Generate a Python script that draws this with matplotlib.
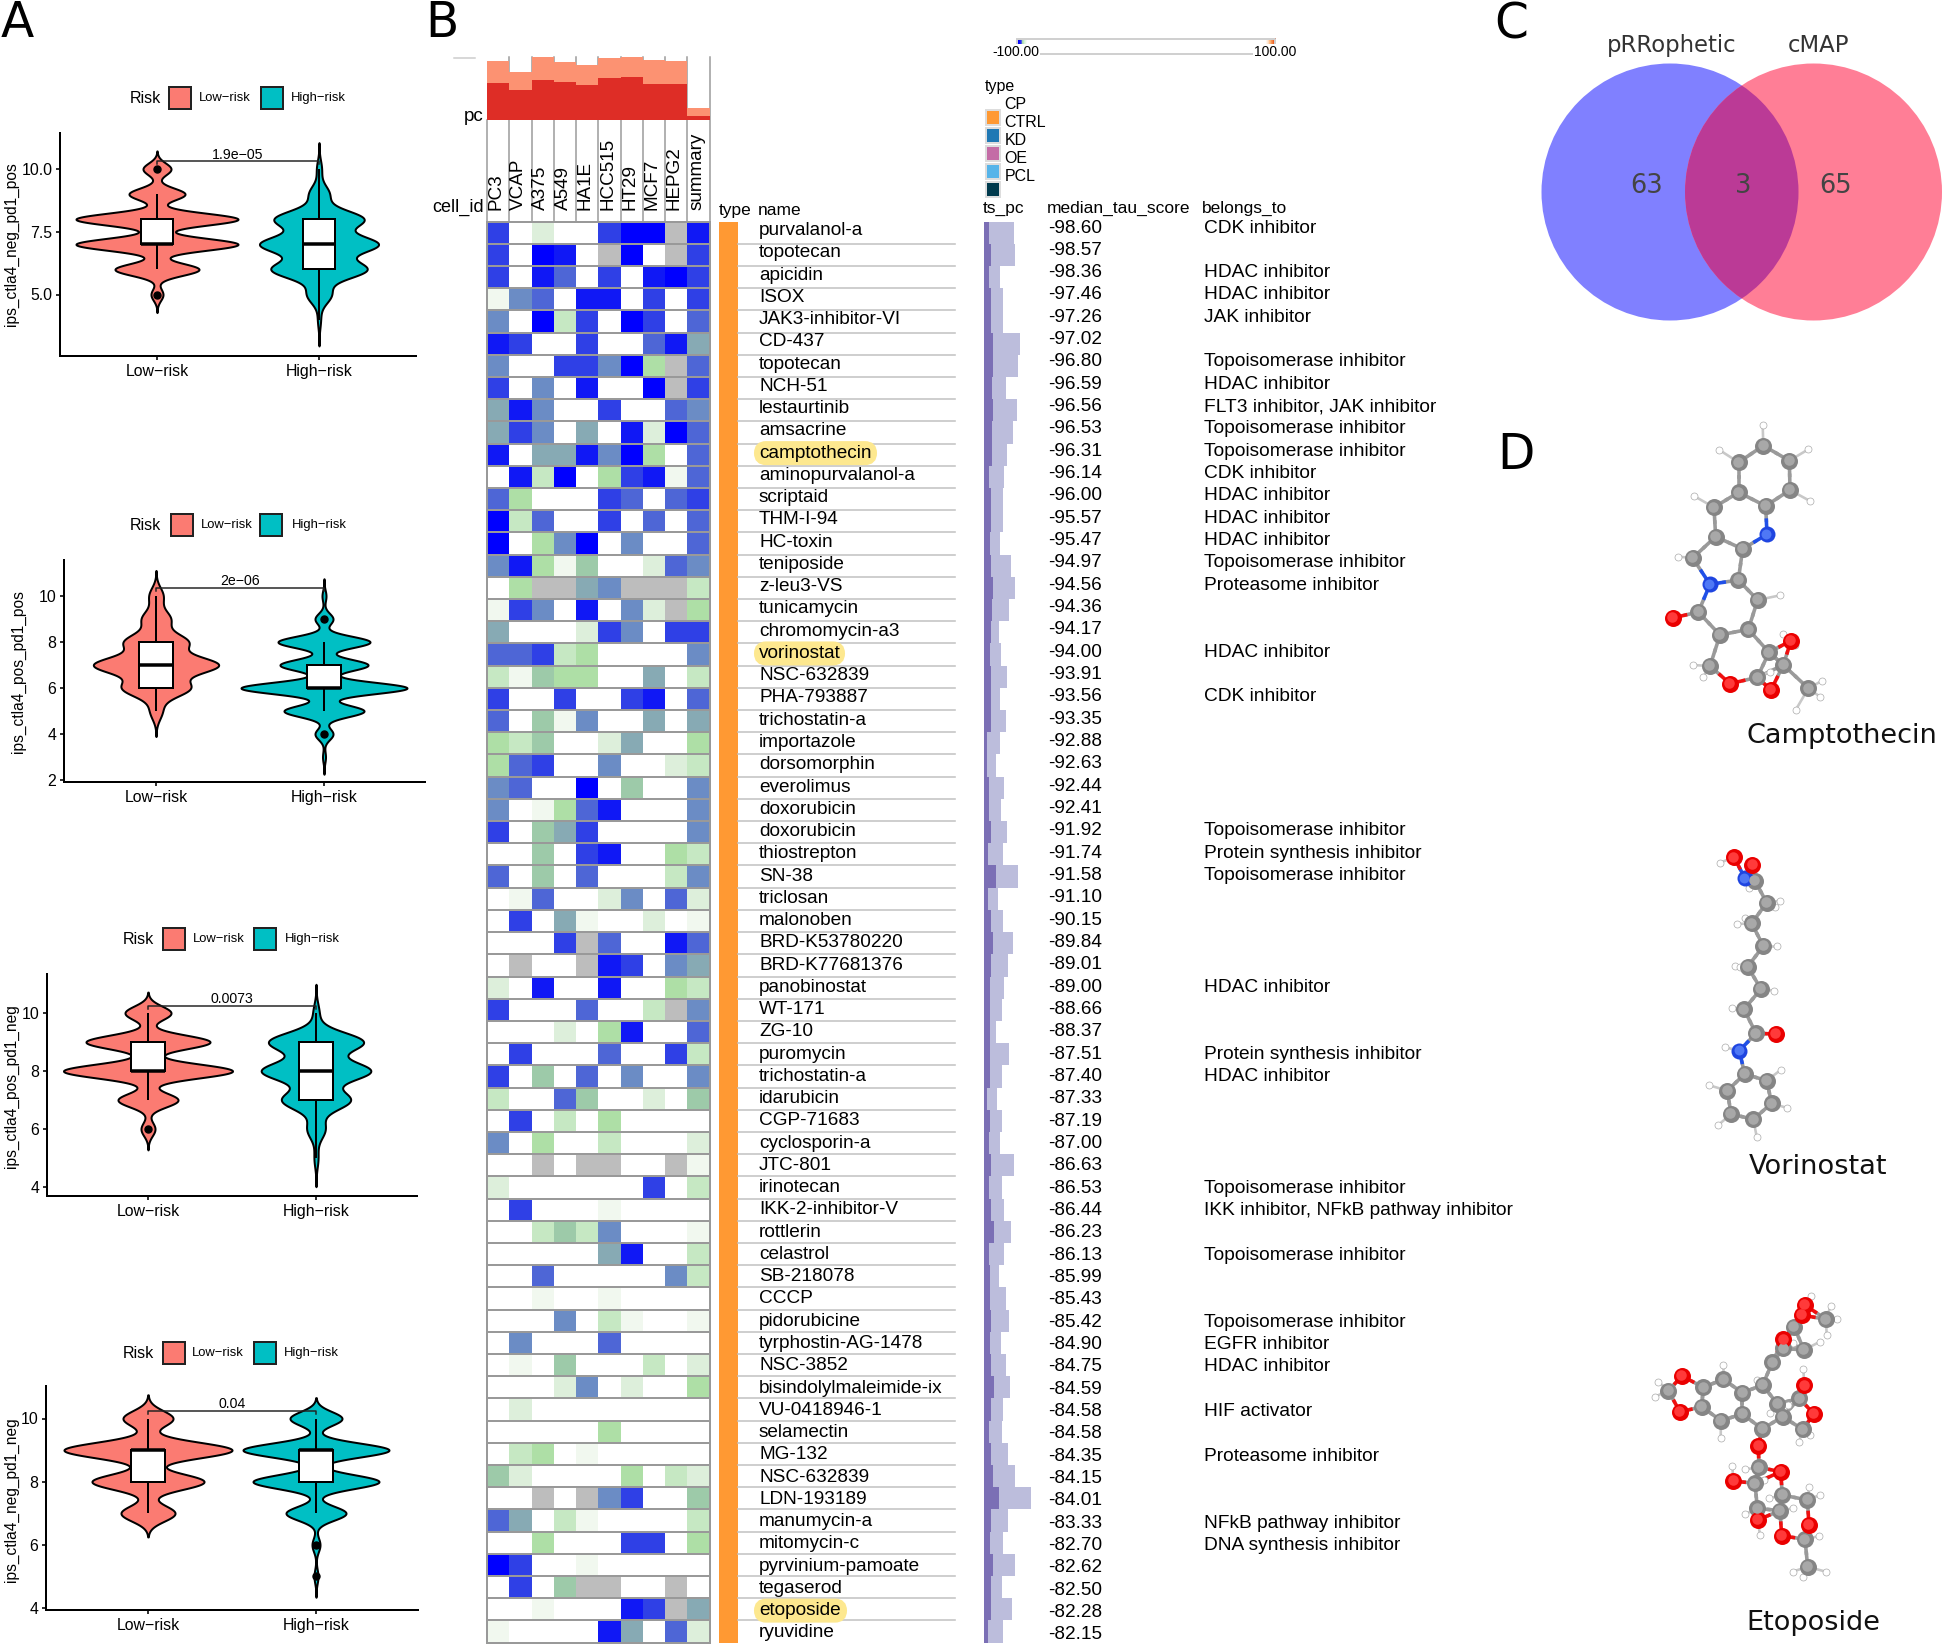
import numpy as np
import matplotlib
matplotlib.use('Agg')
import matplotlib.pyplot as plt
from matplotlib.colors import ListedColormap, LinearSegmentedColormap
from matplotlib.patches import Rectangle, Circle, FancyBboxPatch

plt.rcParams['font.family'] = ['Liberation Sans', 'DejaVu Sans']
W, H = 1944, 1648

# ---------- Panel A data: observations per integer score, smoothing bandwidth, box stats
panel_ylabels = ['ips_ctla4_neg_pd1_pos', 'ips_ctla4_pos_pd1_pos', 'ips_ctla4_pos_pd1_neg', 'ips_ctla4_neg_pd1_neg']
panel_pvalues = ['1.9e\u221205', '2e\u221206', '0.0073', '0.04']
panel_bracket = [10.3, 10.35, 10.25, 10.25]
panel_yticks = [[5, 7.5, 10], [2, 4, 6, 8, 10], [4, 6, 8, 10], [4, 6, 8, 10]]
panel_yticklabels = [['5.0', '7.5', '10.0'], ['2', '4', '6', '8', '10'], ['4', '6', '8', '10'], ['4', '6', '8', '10']]
low_scores = [{5: 6, 6: 42, 7: 81, 8: 81, 9: 28, 10: 14},
              {5: 6, 6: 33, 7: 61, 8: 31, 9: 14, 10: 7},
              {6: 7, 7: 30, 8: 84.5, 9: 62, 10: 23},
              {7: 27, 8: 56, 9: 84, 10: 25}]
high_scores = [{4: 1.5, 5: 12, 6: 47, 7: 58, 8: 44, 9: 10, 10: 2.5},
               {3: 1.5, 4: 9, 5: 40, 6: 83, 7: 44, 8: 46, 9: 9, 10: 2},
               {5: 2, 6: 9, 7: 34, 8: 54, 9: 47, 10: 3},
               {5: 2, 6: 4, 7: 30, 8: 63, 9: 73, 10: 26}]
low_bw = [0.24, 0.37, 0.24, 0.25]
high_bw = [0.35, 0.25, 0.33, 0.22]
# q1, median, q3, whisker low, whisker high, outliers
low_box = [(7, 7, 8, 6, 9, [5, 10]), (6, 7, 8, 5, 10, []), (8, 8, 9, 7, 10, [6]), (8, 9, 9, 7, 10, [])]
high_box = [(6, 7, 8, 4, 10, []), (6, 6, 7, 5, 8, [4, 9]), (7, 8, 9, 5, 10, []), (8, 9, 9, 7, 10, [5, 6])]
risk_labels = ['Low\u2212risk', 'High\u2212risk']

# ---------- Panel B data
cell_ids = ['PC3', 'VCAP', 'A375', 'A549', 'HA1E', 'HCC515', 'HT29', 'MCF7', 'HEPG2', 'summary']
pc_light = [93.5, 76.8, 100, 91.4, 88, 98.4, 100, 95.7, 93, 18.4]
pc_dark = [59, 47.6, 62.7, 60.5, 56.2, 66.5, 68.6, 57.8, 57.8, 7]
drug_names = ['purvalanol-a', 'topotecan', 'apicidin', 'ISOX', 'JAK3-inhibitor-VI', 'CD-437', 'topotecan', 'NCH-51',
              'lestaurtinib', 'amsacrine', 'camptothecin', 'aminopurvalanol-a', 'scriptaid', 'THM-I-94', 'HC-toxin',
              'teniposide', 'z-leu3-VS', 'tunicamycin', 'chromomycin-a3', 'vorinostat', 'NSC-632839', 'PHA-793887',
              'trichostatin-a', 'importazole', 'dorsomorphin', 'everolimus', 'doxorubicin', 'doxorubicin',
              'thiostrepton', 'SN-38', 'triclosan', 'malonoben', 'BRD-K53780220', 'BRD-K77681376', 'panobinostat',
              'WT-171', 'ZG-10', 'puromycin', 'trichostatin-a', 'idarubicin', 'CGP-71683', 'cyclosporin-a', 'JTC-801',
              'irinotecan', 'IKK-2-inhibitor-V', 'rottlerin', 'celastrol', 'SB-218078', 'CCCP', 'pidorubicine',
              'tyrphostin-AG-1478', 'NSC-3852', 'bisindolylmaleimide-ix', 'VU-0418946-1', 'selamectin', 'MG-132',
              'NSC-632839', 'LDN-193189', 'manumycin-a', 'mitomycin-c', 'pyrvinium-pamoate', 'tegaserod', 'etoposide',
              'ryuvidine']
tau_scores = ['-98.60', '-98.57', '-98.36', '-97.46', '-97.26', '-97.02', '-96.80', '-96.59', '-96.56', '-96.53',
              '-96.31', '-96.14', '-96.00', '-95.57', '-95.47', '-94.97', '-94.56', '-94.36', '-94.17', '-94.00',
              '-93.91', '-93.56', '-93.35', '-92.88', '-92.63', '-92.44', '-92.41', '-91.92', '-91.74', '-91.58',
              '-91.10', '-90.15', '-89.84', '-89.01', '-89.00', '-88.66', '-88.37', '-87.51', '-87.40', '-87.33',
              '-87.19', '-87.00', '-86.63', '-86.53', '-86.44', '-86.23', '-86.13', '-85.99', '-85.43', '-85.42',
              '-84.90', '-84.75', '-84.59', '-84.58', '-84.58', '-84.35', '-84.15', '-84.01', '-83.33', '-82.70',
              '-82.62', '-82.50', '-82.28', '-82.15']
CDK, HD, TP, JK = 'CDK inhibitor', 'HDAC inhibitor', 'Topoisomerase inhibitor', 'JAK inhibitor'
PS, PR = 'Protein synthesis inhibitor', 'Proteasome inhibitor'
belongs_to = [CDK, '', HD, HD, JK, '', TP, HD, 'FLT3 inhibitor, JAK inhibitor', TP, TP, CDK, HD, HD, HD, TP, PR, '', '',
              HD, '', CDK, '', '', '', '', '', TP, PS, TP, '', '', '', '', HD, '', '', PS, HD, '', '', '', '', TP,
              'IKK inhibitor, NFkB pathway inhibitor', '', TP, '', '', TP, 'EGFR inhibitor', HD, '',
              'HIF activator', '', PR, '', '', 'NFkB pathway inhibitor', 'DNA synthesis inhibitor', '', '', '', '']
highlighted = {'camptothecin': 115, 'vorinostat': 83, 'etoposide': 85}
G = np.nan
# connectivity level per drug and cell line: 0 blank, 1-11 pale green to pure blue, G not available
connectivity = [
    [9, 0, 2, 0, 0, 9, 11, 11, G, 10], [9, 0, 11, 10, 0, G, 11, 0, G, 9], [9, 0, 10, 8, 0, 9, 0, 10, 11, 9],
    [1, 7, 8, 0, 10, 10, 0, 9, 0, 9], [7, 0, 11, 3, 9, 0, 11, 9, 0, 8], [10, 9, 0, 0, 9, 0, 0, 8, 10, 6],
    [7, 0, 0, 9, 9, 7, 11, 4, G, 8], [9, 0, 7, 0, 10, 0, 0, 11, G, 9], [6, 10, 7, 0, 0, 9, 0, 0, 8, 7],
    [6, 9, 7, 0, 6, 0, 10, 2, 11, 8], [10, 0, 6, 6, 10, 7, 11, 4, 0, 8], [0, 10, 3, 11, 0, 4, 9, 10, 1, 8],
    [8, 4, 0, 0, 0, 9, 8, 0, 8, 9], [11, 3, 8, 0, 0, 9, 0, 8, 0, 8], [11, 0, 4, 7, 11, 0, 7, 0, 0, 8],
    [7, 10, 4, 1, 5, 0, 0, 2, 8, 7], [0, 4, G, G, 6, 7, G, G, G, 3], [1, 9, 7, 0, 10, 0, 7, 2, G, 4],
    [6, 0, 0, 0, 2, 9, 7, 0, 9, 9], [8, 8, 9, 3, 4, 0, 0, 0, 0, 7], [3, 1, 5, 4, 4, 0, 0, 6, 0, 3],
    [9, 0, 0, 9, 0, 0, 9, 10, 0, 8], [8, 0, 5, 1, 7, 0, 0, 6, 0, 6], [4, 3, 5, 0, 0, 2, 6, 0, 0, 4],
    [4, 8, 9, 0, 0, 7, 0, 0, 2, 3], [7, 8, 0, 0, 11, 0, 5, 0, 0, 7], [7, 0, 1, 4, 8, 10, 0, 0, 0, 7],
    [9, 0, 5, 6, 9, 0, 0, 0, 0, 7], [0, 0, 5, 0, 9, 10, 0, 0, 4, 3], [8, 0, 5, 0, 8, 0, 0, 0, 3, 7],
    [0, 1, 8, 0, 0, 2, 7, 0, 8, 2], [0, 9, 0, 6, 1, 0, 0, 2, 0, 1], [0, 0, 0, 9, G, 8, 0, 0, 10, 8],
    [0, G, 0, 0, G, 10, 9, 0, 7, 6], [2, 0, 10, 0, 0, 10, 0, 0, 4, 3], [9, 0, 0, 0, 8, 0, 0, 3, G, 7],
    [0, 0, 0, 2, 0, 4, 10, 0, 0, 8], [0, 9, 0, 0, 0, 8, 0, 0, 9, 3], [9, 0, 5, 0, 8, 0, 7, 0, 0, 7],
    [3, 0, 0, 8, 5, 0, 0, 2, 0, 5], [0, 9, 0, 3, 0, 4, 0, 0, 0, 0], [7, 0, 4, 0, 0, 3, 0, 0, 0, 2],
    [0, 0, G, 0, G, G, 0, 0, G, 1], [2, 0, 0, 0, 0, 0, 0, 9, 0, 3], [0, 9, 0, 0, 0, 1, 0, 0, 0, 0],
    [0, 0, 3, 5, 3, 7, 0, 0, 0, 1], [0, 0, 0, 0, 0, 6, 10, 0, 0, 3], [0, 0, 8, 0, 0, 0, 0, 0, 7, 3],
    [0, 0, 1, 0, 0, 1, 0, 0, 0, 0], [0, 0, 0, 7, 0, 3, 1, 0, 0, 1], [0, 7, 0, 0, 0, 8, 0, 0, 0, 0],
    [0, 1, 0, 5, 0, 0, 0, 3, 0, 2], [0, 0, 0, 2, 7, 0, 2, 0, 0, 4], [0, 2, 0, 0, 0, 0, 0, 0, 0, 0],
    [0, 0, 0, 0, 0, 4, 0, 0, 0, 0], [0, 3, 4, 0, 1, 0, 0, 0, 0, 0], [5, 2, 0, 0, 0, 0, 4, 0, 3, 2],
    [0, 0, G, 0, G, 7, 9, 0, 0, 5], [8, 6, 0, 3, 1, 0, 0, 0, 0, 3], [0, 0, 4, 0, 0, 0, 9, 9, 0, 4],
    [11, 9, 0, 0, 1, 0, 0, 0, 0, 0], [0, 9, 0, 5, G, G, 0, 0, G, 0], [0, 0, 1, 0, 0, 0, 10, 9, G, 6],
    [1, 0, 0, 0, 0, 10, 6, 0, 8, 2]]
ts_dark = [10, 14, 10.7, 13.3, 13.3, 18.7, 18.7, 15.3, 18.7, 15.3, 15.3, 10.7, 13.3, 13.3, 12, 14.7, 17.3, 16, 14.7, 12,
           13.3, 14.7, 13.3, 6.7, 6.7, 10.7, 10.7, 14.7, 8, 23.3, 8, 13.3, 18.7, 14.7, 12, 12, 12, 12, 12, 6.7, 12,
           10.7, 13.3, 10.7, 13.3, 20, 10.7, 12, 12, 14.7, 12, 14.7, 20, 13.3, 10.7, 14.7, 18.7, 30.7, 13.3, 12, 17.3,
           13.3, 14.7, 8]
ts_light = [60, 62, 32.7, 38, 38.7, 71.3, 68.7, 43.3, 65.3, 58.7, 46.7, 40, 37.3, 37.3, 32, 54.7, 62.7, 50, 29.3, 34.7,
            46.7, 32, 43.3, 32, 24, 40, 33.3, 45.3, 38.7, 68, 28.7, 38.7, 58.7, 48.7, 39.3, 36, 24.7, 50, 36, 26, 36,
            32, 60, 35.3, 40.7, 53.3, 40.7, 29.3, 44.7, 50, 33.3, 44.7, 52, 37.3, 36, 48, 62, 93.3, 47.3, 37.3, 61.3,
            35.3, 55.3, 38.7]
type_labels = ['CP', 'CTRL', 'KD', 'OE', 'PCL']
type_colors = ['#ff9933', '#1f78b4', '#c46ca6', '#56b4e9', '#003a4d']
level_colors = ['#ffffff', '#f1f8ef', '#ddefdb', '#c6e8c3', '#aedfa6', '#9dcaa9', '#87aab4', '#6b8cc5', '#4e66d6',
                '#2f40e6', '#1018f5', '#0000ff']

# ---------- Panel C data
venn_labels = ['pRRophetic', 'cMAP']
venn_counts = [63, 3, 65]

# ---------- Panel D data: atoms
camptothecin_C = [(430,137),(508,182),(510,270),(437,318),(356,277),(356,187),(282,322),(287,410),(368,447),(218,474),
                  (355,540),(413,600),(385,688),(300,705),(235,636),(447,757),(490,795),(565,865),(412,832),(270,798)]
camptothecin_N = [(441,403),(270,553)]
camptothecin_O = [(158,654),(513,722),(453,870),(330,851)]
camptothecin_H = [(428,75),(565,148),(570,303),(298,150),(222,288),(175,470),(480,586),(218,795),(250,830),(488,702),
                  (525,735),(605,843),(600,890),(527,930),(450,815)]
vorinostat_C = [(405,122),(440,188),(395,250),(430,318),(383,380),(423,447),(372,508),(408,580),(374,702),(322,752),
                (333,822),(400,838),(455,790),(440,722)]
vorinostat_N = [(375,115),(358,632)]
vorinostat_O = [(342,52),(397,75),(467,582)]
vorinostat_H = [(300,68),(388,143),(480,182),(465,200),(352,252),(375,235),(470,318),(345,378),(462,452),(335,505),
                (315,622),(268,736),(295,855),(410,890),(502,804),(482,690),(360,380)]
etoposide_C = [(310,298),(250,322),(245,380),(303,422),(367,402),(367,338),(428,315),(427,447),(472,372),(488,410),
               (538,355),(548,448),(457,247),(490,205),(522,140),(552,210),(618,118),(145,332),(417,562),(405,610),
               (412,685),(480,692),(487,645),(562,660),(555,778),(563,860)]
etoposide_N = []
etoposide_O = [(186,288),(180,396),(553,316),(582,402),(555,75),(490,178),(415,498),(482,575),(340,603),(413,720),
               (485,767),(567,735),(545,105)]
etoposide_H = [(310,255),(115,305),(105,350),(302,473),(410,300),(450,400),(505,375),(570,465),(537,487),(572,47),
               (632,78),(652,117),(620,165),(600,185),(550,268),(520,190),(375,568),(432,600),(337,558),(375,703),
               (420,765),(448,655),(518,685),(568,622),(600,645),(598,768),(518,875),(550,892),(617,875)]

# ---------- Figure helpers
fig = plt.figure(figsize=(W / 100, H / 100), dpi=100, facecolor='white')


def px_axes(l, t, r, b, z=1):
    ax = fig.add_axes([l / W, 1 - b / H, (r - l) / W, (b - t) / H], zorder=z)
    ax.patch.set_alpha(0)
    return ax


def px_lw(p):
    return p * 0.72


bg = px_axes(0, 0, W, H, z=0)
bg.set_xlim(0, W); bg.set_ylim(H, 0); bg.axis('off')
ov = px_axes(0, 0, W, H, z=5)
ov.set_xlim(0, W); ov.set_ylim(H, 0); ov.axis('off')

for s, x, y in [('A', 1, 37), ('B', 425, 37), ('C', 1494, 38), ('D', 1497, 469)]:
    ov.text(x, y, s, fontsize=35, family='DejaVu Sans', va='baseline', ha='left', color='black')

# ---------- Panel A
panel_geom = [dict(l=60, t=133, r=416, b=356, xl=157, xh=319, y1=(5, 294.5), y2=(10, 169)),
              dict(l=64, t=560, r=425, b=782, xl=156, xh=324, y1=(2, 780), y2=(10, 596)),
              dict(l=47, t=974, r=417, b=1196, xl=148, xh=316, y1=(4, 1187), y2=(10, 1013)),
              dict(l=46, t=1386, r=418, b=1610, xl=148, xh=316, y1=(4, 1608), y2=(10, 1418.5))]
legend_geom = [dict(rt=130, y=98, s1=169, t1=199, s2=261, t2=291),
               dict(rt=130, y=525, s1=171, t1=201, s2=260, t2=292),
               dict(rt=123, y=939, s1=163, t1=193, s2=254, t2=285),
               dict(rt=123, y=1353, s1=163, t1=192, s2=254, t2=284)]
label_geom = [(11, 244), (18, 672), (11, 1086), (11, 1500)]
FILLS = ['#fb7b72', '#00bfc4']


def violin(ax, xc, scores, bw, box, color, unit):
    ks = np.array(list(scores.keys()), float)
    cs = np.array(list(scores.values()), float)
    ys = np.linspace(ks.min() - 3 * bw, ks.max() + 3 * bw, 500)
    half = (cs[None, :] * np.exp(-0.5 * ((ys[:, None] - ks[None, :]) / bw) ** 2)).sum(axis=1) / unit
    ax.fill_betweenx(ys, xc - half, xc + half, facecolor=color, edgecolor='black', lw=px_lw(2), zorder=2)
    q1, med, q3, wl, wh, out = box
    ax.plot([xc, xc], [wl, q1], color='black', lw=px_lw(2), zorder=3, solid_capstyle='butt')
    ax.plot([xc, xc], [q3, wh], color='black', lw=px_lw(2), zorder=3, solid_capstyle='butt')
    ax.add_patch(Rectangle((xc - 0.1, q1), 0.2, q3 - q1, facecolor='white', edgecolor='black', lw=px_lw(2), zorder=4))
    ax.plot([xc - 0.1, xc + 0.1], [med, med], color='black', lw=px_lw(3.5), zorder=5, solid_capstyle='butt')
    if out:
        ax.scatter([xc] * len(out), out, s=px_lw(7) ** 2, color='black', zorder=5)


for i, g in enumerate(panel_geom):
    ax = px_axes(g['l'], g['t'], g['r'], g['b'], z=2)
    unit = g['xh'] - g['xl']
    ax.set_xlim(1 + (g['l'] - g['xl']) / unit, 1 + (g['r'] - g['xl']) / unit)
    (v1, p1), (v2, p2) = g['y1'], g['y2']
    per = (p1 - p2) / (v2 - v1)
    ax.set_ylim(v1 - (g['b'] - p1) / per, v2 + (p2 - g['t']) / per)
    violin(ax, 1, low_scores[i], low_bw[i], low_box[i], FILLS[0], unit)
    violin(ax, 2, high_scores[i], high_bw[i], high_box[i], FILLS[1], unit)
    yb = panel_bracket[i]
    ax.plot([1, 1, 2, 2], [yb - 0.12, yb, yb, yb - 0.12], color='#222222', lw=px_lw(1.5), zorder=6)
    ax.text(1.5, yb - 0.02, panel_pvalues[i], fontsize=10.2, ha='center', va='bottom', zorder=6)
    ax.set_xticks([1, 2]); ax.set_xticklabels(risk_labels, fontsize=11.4)
    ax.set_yticks(panel_yticks[i]); ax.set_yticklabels(panel_yticklabels[i], fontsize=11.4)
    ax.tick_params(length=3, width=px_lw(1.6), pad=2.5)
    for sp in ['top', 'right']:
        ax.spines[sp].set_visible(False)
    for sp in ['left', 'bottom']:
        ax.spines[sp].set_linewidth(px_lw(2))
    lx, ly = label_geom[i]
    ov.text(lx, ly, panel_ylabels[i], rotation=90, fontsize=11.2, ha='center', va='center')
    lg = legend_geom[i]
    ov.text(lg['rt'], lg['y'], 'Risk', fontsize=11.5, ha='left', va='center')
    for sx, tx, col, lab in [(lg['s1'], lg['t1'], FILLS[0], risk_labels[0]), (lg['s2'], lg['t2'], FILLS[1], risk_labels[1])]:
        ov.add_patch(Rectangle((sx, lg['y'] - 11), 22, 22, facecolor=col, edgecolor='#222222', lw=px_lw(2)))
        ov.text(tx, lg['y'], lab, fontsize=9.4, ha='left', va='center')

# ---------- Panel B
HL, HR, HT, HB = 487, 709.5, 221.5, 1642.7
nrow, ncol = len(drug_names), len(cell_ids)
assert nrow == 64 and len(tau_scores) == 64 and len(belongs_to) == 64 and len(connectivity) == 64
assert len(ts_dark) == 64 and len(ts_light) == 64
cw = (HR - HL) / ncol
rh = (HB - HT) / nrow

# top percent bars with column separators behind
bar_ax = px_axes(HL, 57, HR, 120, z=2)
bar_ax.set_xlim(0, ncol); bar_ax.set_ylim(0, 100); bar_ax.axis('off')
bar_ax.bar(np.arange(ncol), pc_light, width=1, align='edge', color='#fc9272')
bar_ax.bar(np.arange(ncol), pc_dark, width=1, align='edge', color='#de2d26')
for j in range(1, ncol + 1):
    bg.plot([HL + j * cw] * 2, [57, HT], color='#999999', lw=px_lw(1.5))
bg.plot([HL] * 2, [120, HT], color='#999999', lw=px_lw(1.5))
ov.plot([454, 475], [57.5, 57.5], color='#cccccc', lw=px_lw(1.5))
ov.text(484, 116, 'pc', fontsize=13.6, ha='right', va='center')
ov.text(484, 207, 'cell_id', fontsize=13, ha='right', va='center')
for j, c in enumerate(cell_ids):
    ov.text(HL + (j + 0.42) * cw, 210, c, rotation=90, fontsize=13.6, ha='center', va='bottom')
ov.text(719, 210, 'type', fontsize=12.5, ha='left', va='center')
ov.text(758, 210, 'name', fontsize=12.5, ha='left', va='center')

# connectivity heat map
cmap = ListedColormap(level_colors)
cmap.set_bad('#bdbdbd')
hm = px_axes(HL, HT, HR, HB, z=2)
hm.pcolormesh(np.arange(ncol + 1), np.arange(nrow + 1), np.ma.masked_invalid(np.array(connectivity, float)),
              cmap=cmap, vmin=-0.5, vmax=11.5)
hm.set_xlim(0, ncol); hm.set_ylim(nrow, 0)
hm.set_xticks([]); hm.set_yticks([])
hm.hlines(np.arange(nrow + 1), 0, ncol, color='#999999', lw=px_lw(2))
for sp in hm.spines.values():
    sp.set_color('#999999'); sp.set_linewidth(px_lw(2))

# type strip and row lines
bg.add_patch(Rectangle((718.6, HT), 19.8, HB - HT, facecolor='#ff9933', edgecolor='none'))
for r in range(1, nrow):
    bg.plot([738.4, 955], [HT + r * rh] * 2, color='#c4c4c4', lw=px_lw(1.6))

NAME_Y0, NAME_DY = 230.5, 22.26
VAL_Y0, VAL_DY = 228, 22.33
for r, n in enumerate(drug_names):
    yn = NAME_Y0 + r * NAME_DY
    yv = VAL_Y0 + r * VAL_DY
    if n in highlighted:
        bg.add_patch(FancyBboxPatch((758, yn - 8), highlighted[n], 16, boxstyle='round,pad=0,rounding_size=8',
                                    mutation_aspect=1, facecolor='#fde88f', edgecolor='#fde88f', lw=px_lw(8),
                                    zorder=4))
    ov.text(759, yn, n, fontsize=13.7, ha='left', va='center')
    ov.text(1048, yv, tau_scores[r], fontsize=13.7, ha='left', va='center')
    if belongs_to[r]:
        ov.text(1203.5, yv, belongs_to[r], fontsize=13.75, ha='left', va='center')

# ts_pc bars
ts = px_axes(984, HT, 1034, HB, z=2)
ts.set_xlim(0, 100); ts.set_ylim(nrow, 0); ts.axis('off')
ts.barh(np.arange(nrow) + 0.5, ts_light, height=1, color='#bcbddc')
ts.barh(np.arange(nrow) + 0.5, ts_dark, height=1, color='#7b6fb5')
ov.text(983, 208, 'ts_pc', fontsize=12.5, ha='left', va='center')
ov.text(1046.5, 208, 'median_tau_score', fontsize=12.5, ha='left', va='center')
ov.text(1202, 208, 'belongs_to', fontsize=12.5, ha='left', va='center')

# type legend
ov.text(984.5, 86, 'type', fontsize=11.5, ha='left', va='center')
leg_y = [104, 122, 140, 158, 176]
for yy, lab, col in zip(leg_y, type_labels, type_colors):
    ov.text(1004.5, yy, lab, fontsize=11.5, ha='left', va='center')
    ov.add_patch(Rectangle((985.5, yy + 6), 14, 14.5, facecolor=col, edgecolor='#dddddd', lw=px_lw(2)))

# colour scale
cb_ax = px_axes(1016.5, 38, 1275, 50, z=2)
scale_cmap = LinearSegmentedColormap.from_list('tau', [(0, '#0000ff'), (0.012, '#2a2af5'), (0.018, '#a8dfa8'),
                                                       (0.034, '#ffffff'), (0.966, '#ffffff'), (0.982, '#fdae6b'),
                                                       (1, '#e6400a')])
cb_ax.imshow(np.linspace(-100, 100, 400)[None, :], aspect='auto', cmap=scale_cmap, vmin=-100, vmax=100)
cb_ax.axis('off')
ov.plot([1016.5, 1275, 1275], [38.5, 38.5, 54], color='#d0d0d0', lw=px_lw(2))
ov.plot([1016.5, 1016.5, 1275], [38.5, 54, 54], color='#d0d0d0', lw=px_lw(2))
for xx, s in [(1016, '-100.00'), (1275, '100.00')]:
    ov.text(xx, 52, s, fontsize=10, ha='center', va='center',
            bbox=dict(facecolor='white', edgecolor='none', pad=0.5))

# ---------- Panel C
L_C, R_C, VY, VR = 1670, 1813.5, 192, 128.5
left_c = Circle((L_C, VY), VR, facecolor='#8080ff', edgecolor='none')
right_c = Circle((R_C, VY), VR, facecolor='#ff7e96', edgecolor='none')
ov.add_patch(left_c); ov.add_patch(right_c)
overlap = Circle((L_C, VY), VR, facecolor='#bb3a96', edgecolor='none')
ov.add_patch(overlap)
overlap.set_clip_path(right_c)
for x, s in zip([1672, 1818], venn_labels):
    ov.text(x, 45, s, fontsize=16.4, family='DejaVu Sans', ha='center', va='center', color='#333333')
for x, c in zip([1647, 1743, 1836], venn_counts):
    ov.text(x, 186, str(c), fontsize=18.5, family='DejaVu Sans', ha='center', va='center', color='#444444')


# ---------- Panel D
def molecule(ox, oy, C, N, O, Hy, cut):
    atoms = [(p, 'C') for p in C] + [(p, 'N') for p in N] + [(p, 'O') for p in O]
    bond_col = {'C': '#9a9a9a', 'N': '#2050e8', 'O': '#f01010', 'H': '#d8d8d8'}
    X = lambda v: ox + v / 3
    Y = lambda v: oy + v / 3
    for a in range(len(atoms)):
        for b in range(a + 1, len(atoms)):
            (p, ea), (q, eb) = atoms[a], atoms[b]
            if ea == 'O' and eb == 'O':
                continue
            if np.hypot(p[0] - q[0], p[1] - q[1]) < cut:
                mx, my = (p[0] + q[0]) / 2, (p[1] + q[1]) / 2
                ov.plot([X(p[0]), X(mx)], [Y(p[1]), Y(my)], color=bond_col[ea], lw=px_lw(3.6), zorder=3)
                ov.plot([X(mx), X(q[0])], [Y(my), Y(q[1])], color=bond_col[eb], lw=px_lw(3.6), zorder=3)
    for h in Hy:
        dd = [np.hypot(h[0] - p[0], h[1] - p[1]) for p, _ in atoms]
        p = atoms[int(np.argmin(dd))][0]
        ov.plot([X(h[0]), X(p[0])], [Y(h[1]), Y(p[1])], color='#c8c8c8', lw=px_lw(2.6), zorder=3)
    hx = np.array(Hy, float)
    ov.scatter(ox + hx[:, 0] / 3, oy + hx[:, 1] / 3, s=px_lw(7) ** 2, color='white', edgecolor='#aaaaaa', lw=0.5, zorder=4)
    for pts, base, lite, d in [(C, '#858585', '#a8a8a8', 17), (N, '#1f45e0', '#4f78f5', 16), (O, '#ea0000', '#ff3a3a', 17)]:
        if not pts:
            continue
        arr = np.array(pts, float)
        xs, ys = ox + arr[:, 0] / 3, oy + arr[:, 1] / 3
        ov.scatter(xs, ys, s=px_lw(d) ** 2, color=base, lw=0, zorder=5)
        ov.scatter(xs - 0.8, ys - 0.8, s=px_lw(d * 0.62) ** 2, color=lite, lw=0, zorder=6)


molecule(1620, 400, camptothecin_C, camptothecin_N, camptothecin_O, camptothecin_H, 105)
molecule(1620, 840, vorinostat_C, vorinostat_N, vorinostat_O, vorinostat_H, 85)
molecule(1620, 1280, etoposide_C, etoposide_N, etoposide_O, etoposide_H, 85)
for x, y, s, fs in [(1746, 736, 'Camptothecin', 19.5), (1749, 1167, 'Vorinostat', 19.6), (1746, 1623, 'Etoposide', 19.5)]:
    ov.text(x, y, s, fontsize=fs, family='DejaVu Sans', ha='left', va='center', color='#111111')

fig.savefig('out.png', dpi=100, facecolor='white')
